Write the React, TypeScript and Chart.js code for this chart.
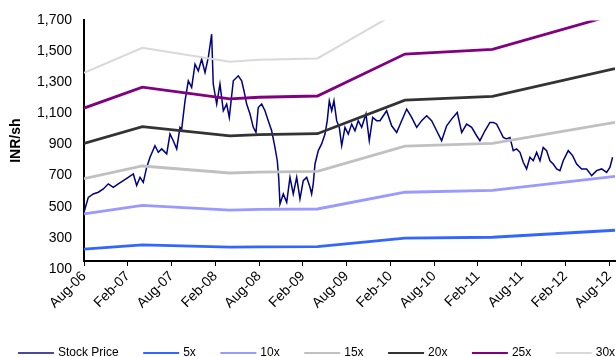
import React, { useEffect, useRef } from "react";
import { Chart, registerables } from "chart.js";

Chart.register(...registerables);

// ---- Data ----
const xTickMonths = [0, 6, 12, 18, 24, 30, 36, 42, 48, 54, 60, 66, 72];
const xTickLabels = ["Aug-06", "Feb-07", "Aug-07", "Feb-08", "Aug-08", "Feb-09", "Aug-09", "Feb-10", "Aug-10", "Feb-11", "Aug-11", "Feb-12", "Aug-12"];
const yTickValues = [100, 300, 500, 700, 900, 1100, 1300, 1500, 1700];

// months since Aug-06
const stockMonths = [0, 0.59, 1.27, 1.96, 2.65, 3.33, 4.02, 4.70, 5.39, 6.07, 6.76, 7.22, 7.68, 8.13, 8.59, 9.05, 9.73, 10.19, 10.65, 11.34, 11.79, 12.24, 12.71, 13.16, 13.39, 13.85, 14.30, 14.76, 15.22, 15.67, 16.13, 16.59, 17.04, 17.50, 17.72, 18.19, 18.64, 19.10, 19.56, 19.92, 20.47, 21.15, 21.62, 21.93, 22.30, 22.76, 23.21, 23.58, 23.89, 24.36, 24.81, 25.26, 25.73, 26.18, 26.50, 26.69, 26.87, 27.32, 27.79, 28.24, 28.69, 29.16, 29.61, 30.06, 30.53, 30.98, 31.21, 31.43, 31.67, 32.12, 32.58, 33.04, 33.35, 33.63, 33.96, 34.27, 34.64, 35.00, 35.33, 35.78, 36.23, 36.70, 37.15, 37.60, 38.07, 38.66, 39.11, 39.58, 40.12, 40.58, 41.49, 42.18, 42.87, 43.55, 44.24, 44.92, 45.61, 46.29, 46.98, 47.66, 48.35, 49.03, 49.72, 50.40, 51.17, 51.78, 52.46, 53.15, 53.83, 54.28, 54.97, 55.65, 56.11, 56.57, 57.03, 57.48, 57.94, 58.40, 58.85, 59.31, 59.77, 60.22, 60.68, 61.14, 61.59, 62.06, 62.51, 62.96, 63.42, 63.88, 64.33, 64.80, 65.25, 65.70, 66.39, 66.99, 67.54, 68.22, 68.91, 69.60, 70.28, 70.97, 71.65, 72.10, 72.47];
const stockPrice = [464, 560, 582, 593, 614, 647, 625, 647, 668, 689, 711, 636, 689, 657, 753, 818, 893, 850, 872, 840, 968, 925, 872, 1011, 1000, 1182, 1311, 1268, 1418, 1375, 1450, 1364, 1461, 1611, 1290, 1161, 1290, 1118, 1161, 1075, 1311, 1343, 1311, 1247, 1161, 1097, 1011, 978, 1139, 1161, 1118, 1054, 989, 882, 796, 689, 518, 582, 528, 689, 582, 689, 550, 668, 689, 625, 582, 647, 775, 861, 904, 968, 1054, 1182, 1118, 1182, 1054, 1011, 893, 1011, 968, 1032, 989, 1054, 1011, 1097, 925, 1075, 1054, 1054, 1118, 1021, 978, 1054, 1129, 1075, 1011, 1054, 1086, 1054, 989, 925, 1021, 1064, 1107, 978, 1032, 1011, 957, 925, 989, 1043, 1043, 1032, 989, 946, 936, 946, 861, 872, 850, 786, 743, 818, 796, 850, 796, 882, 861, 796, 775, 743, 732, 796, 861, 829, 775, 743, 743, 700, 732, 743, 721, 753, 818];

const bandMonths = [0, 8, 20, 24, 32, 44, 56, 72.8];
const band5x = [227, 254, 239, 241, 243, 297, 303, 348];
const band10x = [454, 508, 478, 482, 485, 593, 605, 695];
const band15x = [681, 762, 717, 723, 728, 890, 908, 1043];
const band20x = [908, 1016, 956, 964, 970, 1186, 1210, 1390];
const band25x = [1135, 1270, 1195, 1205, 1213, 1483, 1513, 1738];
const band30x = [1362, 1524, 1434, 1446, 1455, 1779, 1815, 2085];

const FONT = '"Liberation Sans", Arial, sans-serif';

const pts = (xs: number[], ys: number[]) => xs.map((x, i) => ({ x, y: ys[i] }));

const legendPlugin = {
  id: "bottomLegend",
  afterDraw(chart: any) {
    const ctx = chart.ctx;
    ctx.save();
    ctx.font = `12px ${FONT}`;
    ctx.textBaseline = "middle";
    ctx.textAlign = "left";
    let x = 18;
    const y = 353;
    chart.data.datasets.forEach((ds: any) => {
      ctx.strokeStyle = ds.legendColor || ds.borderColor;
      ctx.lineWidth = 2;
      ctx.beginPath();
      ctx.moveTo(x, y);
      ctx.lineTo(x + 36, y);
      ctx.stroke();
      ctx.fillStyle = "#000";
      ctx.fillText(ds.label, x + 40, y);
      x += 40 + ctx.measureText(ds.label).width + 24.5;
    });
    ctx.restore();
  },
};

export default function App() {
  const ref = useRef<HTMLCanvasElement | null>(null);

  useEffect(() => {
    if (!ref.current) return;
    const band = (label: string, ys: number[], color: string, width: number) => ({
      label,
      data: pts(bandMonths, ys),
      borderColor: color,
      backgroundColor: color,
      borderWidth: width,
      pointRadius: 0,
      tension: 0,
      fill: false,
      order: 0,
    });
    const chart = new Chart(ref.current, {
      type: "line",
      data: {
        datasets: [
          {
            label: "Stock Price",
            data: pts(stockMonths, stockPrice),
            borderColor: "#000080",
            legendColor: "#4a4a9c",
            backgroundColor: "#000080",
            borderWidth: 1.5,
            pointRadius: 0,
            tension: 0,
            fill: false,
            order: 1,
          } as any,
          band("5x", band5x, "#3366ff", 2.8),
          band("10x", band10x, "#9999ff", 2.8),
          band("15x", band15x, "#c0c0c0", 2.8),
          band("20x", band20x, "#333333", 2.8),
          band("25x", band25x, "#800080", 2.8),
          band("30x", band30x, "#d9d9d9", 2),
        ],
      },
      options: {
        animation: false,
        responsive: false,
        devicePixelRatio: 1,
        layout: { padding: { top: 19, right: 1, bottom: 0, left: 0 } },
        plugins: { legend: { display: false }, tooltip: { enabled: false } },
        scales: {
          x: {
            type: "linear",
            min: 0,
            max: 72.8,
            afterBuildTicks: (s: any) => {
              s.ticks = xTickMonths.map((v) => ({ value: v }));
            },
            afterFit: (s: any) => {
              s.height = 96;
              s.paddingLeft = 0;
              s.paddingRight = 0;
            },
            ticks: {
              autoSkip: false,
              maxRotation: 45,
              minRotation: 45,
              padding: 2,
              color: "#000",
              font: { family: FONT, size: 14 },
              callback: (v: any) => {
                const i = xTickMonths.indexOf(Number(v));
                return i >= 0 ? xTickLabels[i] : "";
              },
            },
            grid: { display: true, drawOnChartArea: false, drawTicks: true, tickLength: 5, color: "#000", lineWidth: 1 },
            border: { display: true, color: "#000", width: 2 },
          },
          y: {
            type: "linear",
            min: 150,
            max: 1700,
            afterBuildTicks: (s: any) => {
              s.ticks = yTickValues.map((v) => ({ value: v }));
            },
            afterFit: (s: any) => {
              s.width = 84;
            },
            ticks: {
              autoSkip: false,
              padding: 12,
              color: "#000",
              font: { family: FONT, size: 14 },
              callback: (v: any) => Number(v).toLocaleString("en-US"),
            },
            grid: { display: false, drawTicks: false },
            border: { display: true, color: "#000", width: 2 },
            title: {
              display: true,
              text: "INR/sh",
              color: "#000",
              font: { family: FONT, size: 14, weight: "bold" },
              padding: { top: 7.6, bottom: 0 },
            },
          },
        },
      },
      plugins: [legendPlugin],
    } as any);
    return () => chart.destroy();
  }, []);

  return (
    <div style={{ position: "absolute", left: 0, top: 0, width: 616, height: 357, background: "#fff" }}>
      <canvas ref={ref} width={616} height={357} style={{ width: 616, height: 357, display: "block" }} />
    </div>
  );
}
